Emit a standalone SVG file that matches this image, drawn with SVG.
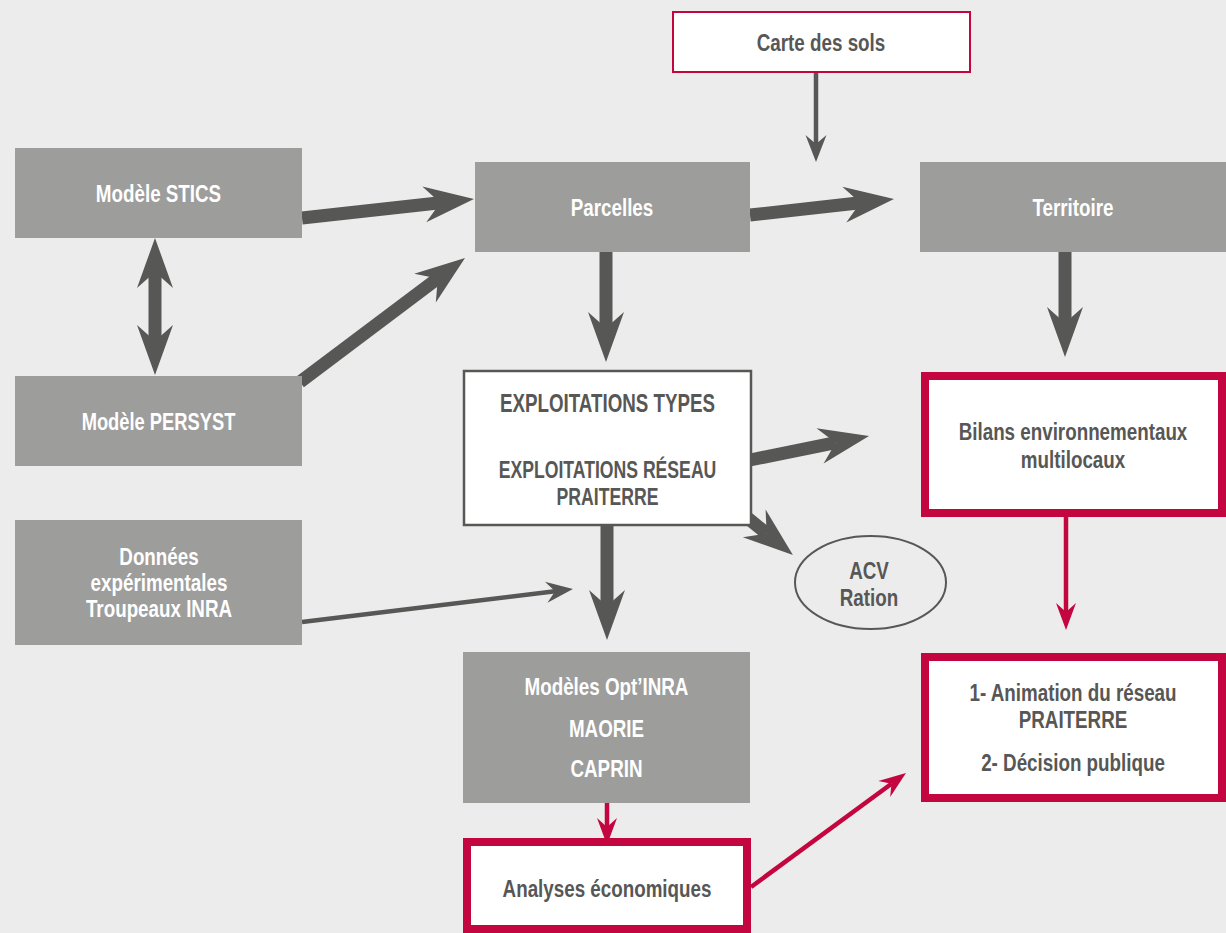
<svg xmlns="http://www.w3.org/2000/svg" width="1226" height="933" viewBox="0 0 1226 933">
<style>
.bg{fill:#ececec}
.gray{fill:#9d9d9c}
.white{fill:#ffffff}
.redb{fill:#ffffff;stroke:#c3063f;stroke-width:8}
.redthin{fill:#ffffff;stroke:#c3063f;stroke-width:2}
.dkb{fill:#ffffff;stroke:#575756;stroke-width:2.5}
.ell{fill:none;stroke:#575756;stroke-width:2}
text{font-family:"Liberation Sans",Arial,sans-serif;font-weight:bold;font-size:23.5px;text-anchor:middle}
.tw{fill:#ffffff}
.td{fill:#575756}
.big{fill:none;stroke:#575756;stroke-width:13;marker-end:url(#mBig)}
.thin{fill:none;stroke:#575756;stroke-width:4.5;marker-end:url(#mThin)}
.red{fill:none;stroke:#c3063f;stroke-width:4.5;marker-end:url(#mRed)}
</style>
<defs>
<marker id="mBig" markerUnits="userSpaceOnUse" orient="auto-start-reverse" overflow="visible" markerWidth="60" markerHeight="40" refX="0" refY="0">
<path d="M34,0 L-16,-18 L0,0 L-16,18 Z" fill="#575756"/>
</marker>
<marker id="mThin" markerUnits="userSpaceOnUse" orient="auto" overflow="visible" markerWidth="30" markerHeight="24" refX="0" refY="0">
<path d="M18,0 L-9,-10.5 L0,0 L-9,10.5 Z" fill="#575756"/>
</marker>
<marker id="mRed" markerUnits="userSpaceOnUse" orient="auto" overflow="visible" markerWidth="30" markerHeight="24" refX="0" refY="0">
<path d="M18,0 L-9,-10 L0,0 L-9,10 Z" fill="#c3063f"/>
</marker>
</defs>
<rect class="bg" x="0" y="0" width="1226" height="933"/>

<g id="connectors">
<path class="big" d="M302,218 L440.2,202.7"/>
<path class="big" d="M750,215 L860.2,202.8"/>
<path class="big" d="M300,382 L437.8,278.4"/>
<path class="big" d="M606,250 L606,328"/>
<path class="big" d="M155,272 L155,341" marker-start="url(#mBig)"/>
<path class="big" d="M1065,250 L1065,323"/>
<path class="big" d="M750,460 L835.7,442.7"/>
<path class="big" d="M731,504.4 L766.6,533.5"/>
<path class="big" d="M607,524 L607,606"/>
<path class="thin" d="M816,72 L816,144"/>
<path class="thin" d="M302,622 L555.1,591.2"/>
<path class="red" d="M1066,517 L1066,612"/>
<path class="red" d="M607,803 L607,827"/>
<path class="red" d="M751,887 L891.5,783.7"/>
</g>

<g id="carte">
<rect class="redthin" x="673" y="12" width="297" height="60"/>
<text class="td" transform="translate(821,0) scale(0.8,1)" y="51">Carte des sols</text>
</g>

<g id="stics">
<rect class="gray" x="15" y="148" width="287" height="90"/>
<text class="tw" transform="translate(158.5,0) scale(0.8,1)" y="202">Modèle STICS</text>
</g>

<g id="persyst">
<rect class="gray" x="15" y="376" width="287" height="90"/>
<text class="tw" transform="translate(158.5,0) scale(0.78,1)" y="430">Modèle PERSYST</text>
</g>

<g id="donnees">
<rect class="gray" x="15" y="520" width="287" height="125"/>
<g transform="translate(159,0) scale(0.8,1)">
<text class="tw" y="565">Données</text>
<text class="tw" y="591">expérimentales</text>
<text class="tw" y="617">Troupeaux INRA</text>
</g>
</g>

<g id="parcelles">
<rect class="gray" x="475" y="162" width="275" height="90"/>
<text class="tw" transform="translate(612,0) scale(0.8,1)" y="216">Parcelles</text>
</g>

<g id="territoire">
<rect class="gray" x="920" y="162" width="306" height="90"/>
<text class="tw" transform="translate(1073,0) scale(0.8,1)" y="216">Territoire</text>
</g>

<g id="exploitations">
<rect class="dkb" x="464" y="371" width="287" height="154"/>
<g transform="translate(607.5,0) scale(0.75,1)">
<text class="td" y="412" style="font-size:25px">EXPLOITATIONS TYPES</text>
<text class="td" y="478">EXPLOITATIONS RÉSEAU</text>
<text class="td" y="505">PRAITERRE</text>
</g>
</g>

<g id="acv">
<ellipse class="ell" cx="870.5" cy="582.5" rx="75.5" ry="46.5"/>
<g transform="translate(869,0) scale(0.8,1)">
<text class="td" y="579">ACV</text>
<text class="td" y="606">Ration</text>
</g>
</g>

<g id="bilans">
<rect class="redb" x="925" y="376" width="297" height="137"/>
<g transform="translate(1073,0) scale(0.8,1)">
<text class="td" y="440">Bilans environnementaux</text>
<text class="td" y="468">multilocaux</text>
</g>
</g>

<g id="optinra">
<rect class="gray" x="463" y="652" width="287" height="151"/>
<g transform="translate(606.5,0) scale(0.8,1)">
<text class="tw" y="695">Modèles Opt’INRA</text>
<text class="tw" y="737">MAORIE</text>
<text class="tw" y="777">CAPRIN</text>
</g>
</g>

<g id="analyses">
<rect class="redb" x="467" y="842" width="280" height="87"/>
<text class="td" transform="translate(607,0) scale(0.8,1)" y="897">Analyses économiques</text>
</g>

<g id="animation">
<rect class="redb" x="925" y="657" width="297" height="141"/>
<g transform="translate(1073,0) scale(0.8,1)">
<text class="td" y="701">1- Animation du réseau</text>
<text class="td" y="728">PRAITERRE</text>
<text class="td" y="771">2- Décision publique</text>
</g>
</g>
</svg>
